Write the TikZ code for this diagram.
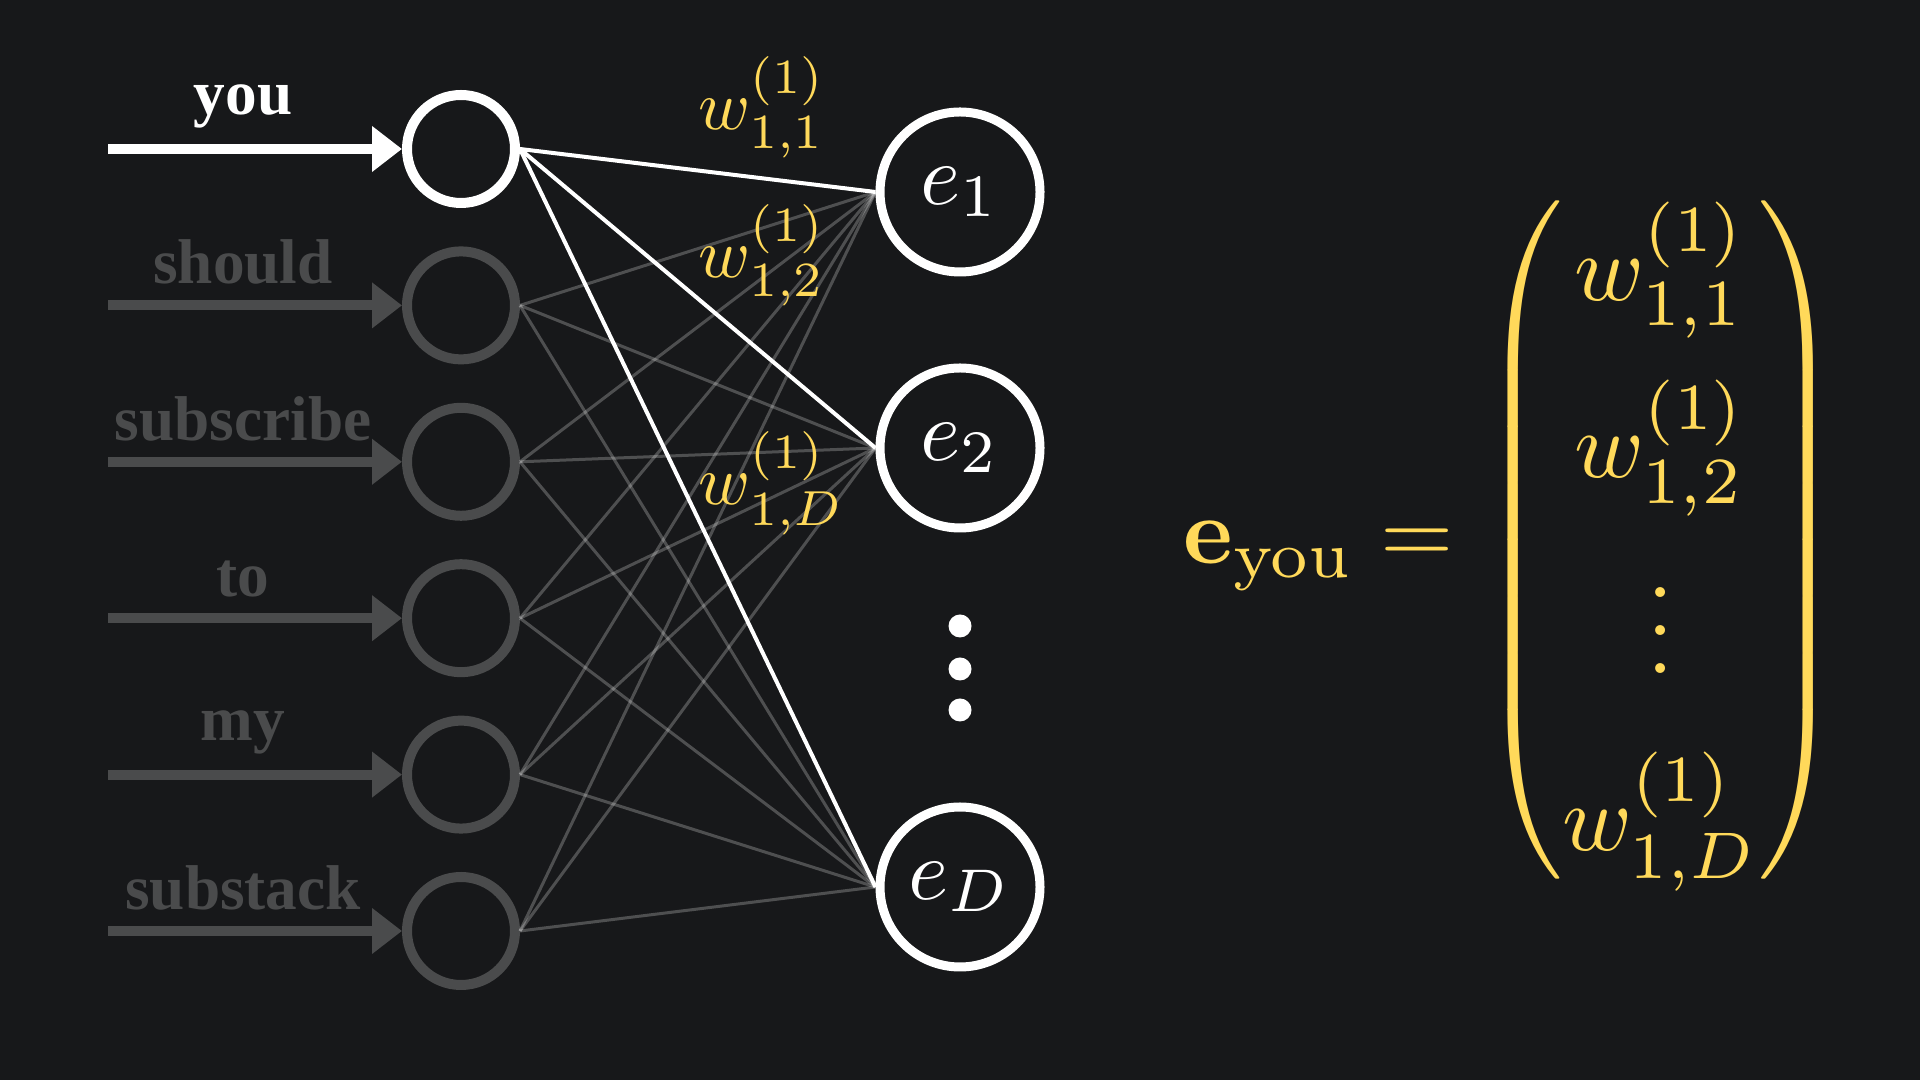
\documentclass[tikz,border=0pt]{standalone}
\usepackage[no-math]{fontspec}
\usepackage{amsmath}
\usepackage{graphicx}
\usetikzlibrary{arrows.meta}
\newfontfamily\wordfont{Liberation Serif}

\definecolor{bgdark}{RGB}{23,24,26}
\definecolor{dimgray}{RGB}{74,75,76}
\definecolor{wyellow}{RGB}{255,217,90}

\tikzset{
  tok/.style={circle, draw, line width=1mm, minimum size=10.8mm, inner sep=0pt},
  emb/.style={circle, draw=white, line width=0.9mm, minimum size=16mm, inner sep=0pt, text=white},
  word/.style={anchor=south, inner sep=0pt, font=\wordfont\bfseries\fontsize{18}{20}\selectfont},
  feed/.style={line width=1mm, -{Triangle[length=3mm,width=4.4mm]}},
  wire/.style={line width=0.3mm, white, opacity=0.24},
  hot/.style={line width=0.4mm, white},
  wlabel/.style={anchor=base west, inner sep=0pt, text=wyellow},
}

\begin{document}
\begin{tikzpicture}
    % Background
    \fill[bgdark] (0,0) rectangle (19.2,10.8);
    \useasboundingbox (0,0) rectangle (19.2,10.8);

    % Input tokens
    \node[tok, draw=white] (you) at (4.61,9.31) {};
    \coordinate (you-in) at (1.08,9.31);
    \draw[feed, white] (you-in) -- (you);
    \node[word, text=white] (you-lab) at (2.43,9.51) {you};
    \foreach \w/\y in {should/7.746, subscribe/6.182, to/4.618, my/3.054, substack/1.49} {
        \node[tok, draw=dimgray] (\w) at (4.61,\y) {};
        \coordinate (\w-in) at (1.08,\y);
        \draw[feed, dimgray] (\w-in) -- (\w);
        \node[word, text=dimgray] (\w-lab) at (2.43,\y+0.2) {\w};
    }

    % Embedding units
    \node[emb] (e1) at (9.6,8.88) {\scalebox{2.45}{$e_1$}};
    \node[emb] (e2) at (9.6,6.32) {\scalebox{2.45}{$e_2$}};
    \node[emb] (eD) at (9.6,1.93) {\scalebox{2.45}{$e_D$}};
    \fill[white] (9.6,4.54) circle (0.115) (9.6,4.11) circle (0.115) (9.6,3.70) circle (0.115);

    % Weights
    \foreach \w in {should,subscribe,to,my,substack}
        \foreach \e in {e1,e2,eD}
            \draw[wire] (\w.east) -- (\e.west);
    \foreach \e in {e1,e2,eD}
        \draw[hot] (you.east) -- (\e.west);

    % Weight labels
    \node[wlabel] (w11) at (6.98,9.50) {\scalebox{2}{$w^{(1)}_{1,1}$}};
    \node[wlabel] (w12) at (6.98,8.02) {\scalebox{2}{$w^{(1)}_{1,2}$}};
    \node[wlabel] (w1D) at (6.98,5.75) {\scalebox{2}{$w^{(1)}_{1,D}$}};

    % Embedding vector
    \node[text=wyellow, inner sep=0pt] (vec) at (15.12,5.40) {\scalebox{2.68}{\renewcommand{\arraystretch}{1.57}\delimitershortfall=8pt%
        $\mathbf{e}_{\text{you}} = \begin{pmatrix} w^{(1)}_{1,1} \\ w^{(1)}_{1,2} \\ \vdots \\ w^{(1)}_{1,D} \end{pmatrix}$}};

\end{tikzpicture}
\end{document}
